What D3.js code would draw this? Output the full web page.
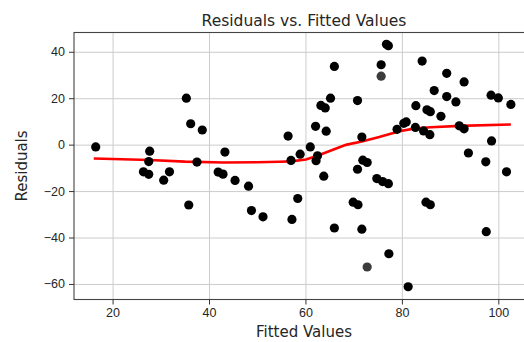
<!DOCTYPE html>
<html>
<head>
<meta charset="utf-8">
<script src="https://cdn.jsdelivr.net/npm/d3@7"></script>
<style>
  body { margin: 0; background: #fff; }
  svg { display: block; font-family: "DejaVu Sans", sans-serif; }
  .tick text { fill: #262626; font-size: 12.5px; }
  .tick line { stroke: #333; }
  .grid line { stroke: #cccccc; stroke-width: 1; }
  .grid path { display: none; }
</style>
</head>
<body>
<script>
// residual points (fitted value, residual)
var fittedValues = [16.5, 26.4, 27.5, 27.7, 27.5, 30.6, 31.8, 35.3, 36.2, 38.6,
    37.5, 35.8, 43.3, 41.9, 42.9, 45.4, 48.2, 48.8, 51.2, 56.4,
    57.0, 58.9, 61.0, 62.1, 62.5, 62.2, 64.3, 63.2, 64.1, 65.2,
    66.0, 63.8, 58.4, 57.2, 66.0, 70.8, 71.7, 71.9, 72.8, 70.8,
    69.9, 70.9, 71.7, 75.7, 76.8, 77.2, 74.8, 76.0, 77.2, 77.3,
    79.0, 80.4, 80.9, 81.3, 82.9, 82.8, 84.2, 84.5, 85.8, 85.2,
    85.9, 86.7, 88.1, 89.3, 89.3, 91.2, 91.9, 92.9, 92.9, 93.8,
    97.4, 98.6, 98.5, 100.0, 102.6, 101.7, 97.5, 85.0, 85.9];
var residuals = [-1.0, -11.7, -12.8, -2.8, -7.3, -15.3, -11.7, 20.0, 9.0, 6.3,
    -7.5, -26.0, -3.2, -11.8, -12.7, -15.4, -17.9, -28.4, -31.1, 3.7,
    -6.8, -4.1, -1.0, 7.9, -4.8, -6.9, 5.8, 16.9, 15.8, 20.0,
    33.7, -13.6, -23.2, -32.2, -35.9, 19.0, 3.3, -6.7, -7.7, -10.6,
    -24.8, -25.9, -36.4, 34.4, 43.2, 42.6, -14.6, -15.9, -16.8, -47.0,
    6.6, 9.2, 9.8, -61.2, 16.8, 7.4, 36.0, 5.9, 4.3, 15.0,
    14.2, 23.3, 12.2, 20.7, 30.7, 18.4, 8.1, 6.8, 27.0, -3.6,
    -7.4, 1.6, 21.3, 20.1, 17.3, -11.7, -37.5, -24.8, -25.9];

// two points that show lighter than the rest
var fadedFitted = [72.8, 75.7];
var fadedResiduals = [-52.7, 29.5];

// red lowess curve
var lowessX = [16.1, 27.7, 35.0, 43.0, 50.0, 54.6, 57.0, 60.1, 62.2, 65.7, 68.4, 71.9, 75.3, 79.5, 82.5, 86.0, 92.0, 102.6];
var lowessY = [-6.0, -6.6, -7.3, -7.7, -7.6, -7.4, -7.2, -6.4, -5.0, -2.2, -0.1, 1.5, 3.3, 5.8, 6.9, 7.5, 8.1, 8.7];

var xTicks = [20, 40, 60, 80, 100];
var yTicks = [-60, -40, -20, 0, 20, 40];

var width = 524, height = 342;
// plot box; the right edge lies past the picture, as in the reference
var plotLeft = 74, plotTop = 32.5, plotRight = 534, plotBottom = 299.5;

var svg = d3.select("body").append("svg")
    .attr("width", width)
    .attr("height", height);

var x = d3.scaleLinear().domain([12.0, 107.4]).range([plotLeft, plotRight]);
var y = d3.scaleLinear().domain([-66.7, 48.3]).range([plotBottom, plotTop]);

function minus(d) {
    return d < 0 ? "\u2212" + Math.abs(d) : String(d);
}

// grid
svg.append("g").attr("class", "grid")
    .attr("transform", "translate(0," + plotBottom + ")")
    .call(d3.axisBottom(x).tickValues(xTicks).tickSize(-(plotBottom - plotTop)).tickFormat(""));
svg.append("g").attr("class", "grid")
    .attr("transform", "translate(" + plotLeft + ",0)")
    .call(d3.axisLeft(y).tickValues(yTicks).tickSize(-(plotRight - plotLeft)).tickFormat(""));

// lowess line under the points
var line = d3.line()
    .x(function(d) { return x(d); })
    .y(function(d, i) { return y(lowessY[i]); });
svg.append("path")
    .datum(lowessX)
    .attr("d", line)
    .attr("fill", "none")
    .attr("stroke", "#ff0000")
    .attr("stroke-width", 2.6);

// points
svg.append("g").selectAll("circle")
    .data(fittedValues)
    .enter().append("circle")
    .attr("cx", function(d) { return x(d); })
    .attr("cy", function(d, i) { return y(residuals[i]); })
    .attr("r", 4.6)
    .attr("fill", "#000");
svg.append("g").selectAll("circle")
    .data(fadedFitted)
    .enter().append("circle")
    .attr("cx", function(d) { return x(d); })
    .attr("cy", function(d, i) { return y(fadedResiduals[i]); })
    .attr("r", 4.6)
    .attr("fill", "#3c3c3c");

// spines
svg.append("rect")
    .attr("x", plotLeft).attr("y", plotTop)
    .attr("width", plotRight - plotLeft).attr("height", plotBottom - plotTop)
    .attr("fill", "none")
    .attr("stroke", "#444")
    .attr("stroke-width", 1.1);

// axes
var xAxis = svg.append("g")
    .attr("transform", "translate(0," + plotBottom + ")")
    .call(d3.axisBottom(x).tickValues(xTicks).tickSize(5).tickPadding(4).tickFormat(minus));
var yAxis = svg.append("g")
    .attr("transform", "translate(" + plotLeft + ",0)")
    .call(d3.axisLeft(y).tickValues(yTicks).tickSize(5).tickPadding(4).tickFormat(minus));
xAxis.select(".domain").remove();
yAxis.select(".domain").remove();
svg.selectAll(".tick text").attr("font-family", null);

// labels
svg.append("text")
    .attr("x", (plotLeft + plotRight) / 2).attr("y", 26)
    .attr("text-anchor", "middle")
    .attr("fill", "#262626")
    .style("font-size", "15.5px")
    .text("Residuals vs. Fitted Values");
svg.append("text")
    .attr("x", (plotLeft + plotRight) / 2).attr("y", 337)
    .attr("text-anchor", "middle")
    .attr("fill", "#262626")
    .style("font-size", "15px")
    .text("Fitted Values");
svg.append("text")
    .attr("transform", "translate(27," + (plotTop + plotBottom) / 2 + ") rotate(-90)")
    .attr("text-anchor", "middle")
    .attr("fill", "#262626")
    .style("font-size", "15px")
    .text("Residuals");
</script>
</body>
</html>
